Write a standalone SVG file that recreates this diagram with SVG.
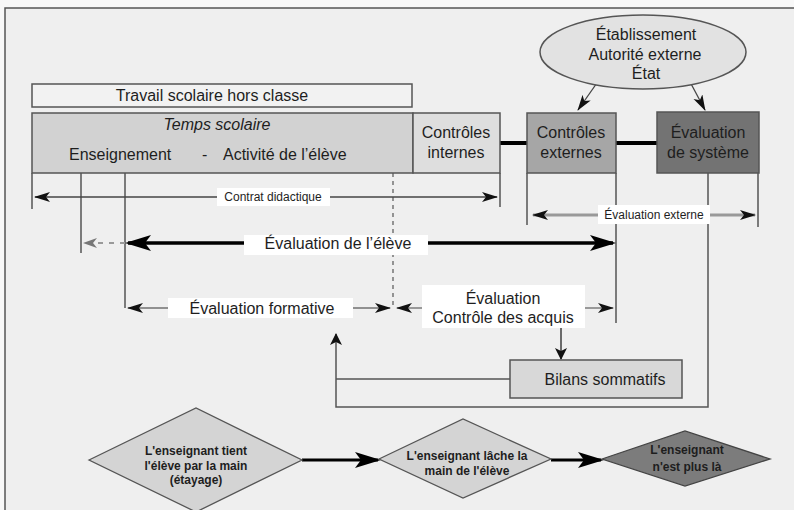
<svg xmlns="http://www.w3.org/2000/svg" width="794" height="510" viewBox="0 0 794 510">
<style>
text{font-family:"Liberation Sans",Arial,sans-serif;fill:#1e1e1e}
.t16{font-size:16px}
.t12{font-size:12px}
.c{text-anchor:middle}
.box{stroke:#555;stroke-width:1.5}
.dia{font-size:12px;font-weight:bold;text-anchor:middle}
.lbl{fill:#fff;stroke:none}
.ln{stroke:#555;stroke-width:1.5;fill:none}
</style>
<defs>
<marker id="a" markerUnits="userSpaceOnUse" markerWidth="17" markerHeight="11" refX="15" refY="5" orient="auto-start-reverse"><path d="M0,0 L16,5 L0,10 L4,5 z" fill="#111"/></marker>
<marker id="aB" markerUnits="userSpaceOnUse" markerWidth="28" markerHeight="17" refX="23" refY="8" orient="auto-start-reverse"><path d="M0,0 L26,8 L0,16 L6,8 z" fill="#000"/></marker>
<marker id="aG" markerUnits="userSpaceOnUse" markerWidth="15" markerHeight="11" refX="13" refY="5" orient="auto-start-reverse"><path d="M0,0 L14,5 L0,10 L4,5 z" fill="#777"/></marker>
<marker id="aS" markerUnits="userSpaceOnUse" markerWidth="13" markerHeight="15" refX="11" refY="6" orient="auto-start-reverse"><path d="M0,0 L12,6 L0,12 L3,6 z" fill="#111"/></marker>
</defs>
<rect width="794" height="510" fill="#f8f8f8"/>
<rect x="5" y="8" width="800" height="520" fill="#efefef" stroke="#555" stroke-width="1.5"/>

<g id="connectors">
  <!-- vertical guide lines -->
  <path class="ln" d="M32,173 V209 M81,173 V253 M125,173 V308 M500,173 V207 M527,173 V225 M616,173 V323 M758,173 V227"/>
  <path d="M393,173 V307" stroke="#555" stroke-width="1.2" stroke-dasharray="4,4" fill="none"/>
  <!-- thick links -->
  <path d="M500,143 H527 M616,143 H657" stroke="#000" stroke-width="4" fill="none"/>
  <!-- ellipse arrows -->
  <path d="M599,80 L578,110" stroke="#444" stroke-width="1.3" fill="none" marker-end="url(#a)"/>
  <path d="M689,80 L705,110" stroke="#444" stroke-width="1.3" fill="none" marker-end="url(#a)"/>
  <!-- contrat didactique -->
  <path d="M35,197 H497" stroke="#444" stroke-width="1.5" fill="none" marker-start="url(#a)" marker-end="url(#a)"/>
  <!-- evaluation externe -->
  <path d="M533,215 H755" stroke="#999" stroke-width="3" fill="none" marker-start="url(#a)" marker-end="url(#a)"/>
  <!-- evaluation de l'eleve -->
  <path d="M125,243 H84" stroke="#999" stroke-width="2" stroke-dasharray="5,6" fill="none" marker-end="url(#aG)"/>
  <path d="M128,243 H613" stroke="#000" stroke-width="3.5" fill="none" marker-start="url(#aB)" marker-end="url(#aB)"/>
  <!-- evaluation formative -->
  <path d="M128,308 H390" stroke="#333" stroke-width="1.2" fill="none" marker-start="url(#a)" marker-end="url(#a)"/>
  <!-- controle des acquis -->
  <path d="M397,308 H613" stroke="#999" stroke-width="2" fill="none" marker-start="url(#a)" marker-end="url(#a)"/>
  <path d="M561,328 V359" stroke="#222" stroke-width="1.3" fill="none" marker-end="url(#aS)"/>
  <!-- loop back -->
  <path class="ln" d="M708,173 V407 H336 V334" marker-end="url(#aS)"/>
  <path class="ln" d="M510,379 H336"/>
  <!-- bottom sequence -->
  <path d="M302,460 H378" stroke="#000" stroke-width="3" fill="none" marker-end="url(#aB)"/>
  <path d="M551,460 H601" stroke="#000" stroke-width="3" fill="none" marker-end="url(#aB)"/>
</g>

<g id="labels">
  <rect class="lbl" x="217" y="188" width="113" height="18"/>
  <text class="t12 c" x="273" y="201">Contrat didactique</text>
  <rect class="lbl" x="598" y="205" width="112" height="19"/>
  <text class="t12 c" x="654" y="219">Évaluation externe</text>
  <rect class="lbl" x="244" y="235" width="184" height="20"/>
  <text class="t16 c" x="338" y="249">Évaluation de l’élève</text>
  <rect class="lbl" x="168" y="298" width="185" height="20"/>
  <text class="t16 c" x="262" y="314">Évaluation formative</text>
  <rect class="lbl" x="422" y="285" width="163" height="43"/>
  <text class="t16 c" x="503" y="304">Évaluation</text>
  <text class="t16 c" x="503" y="323">Contrôle des acquis</text>
</g>

<g id="travail">
  <rect class="box" x="32" y="84" width="380" height="23" fill="#f2f2f2"/>
  <text class="t16 c" x="212" y="101">Travail scolaire hors classe</text>
</g>
<g id="temps-scolaire">
  <rect class="box" x="32" y="113" width="381" height="60" fill="#d2d2d2"/>
  <text class="t16 c" x="217" y="130" font-style="italic">Temps scolaire</text>
  <text class="t16" y="160"><tspan x="69">Enseignement</tspan><tspan x="202">-</tspan><tspan x="223">Activité de l’élève</tspan></text>
</g>
<g id="controles-internes">
  <rect class="box" x="413" y="113" width="87" height="60" fill="#dedede"/>
  <text class="t16 c" x="456" y="138">Contrôles</text>
  <text class="t16 c" x="456" y="158">internes</text>
</g>
<g id="controles-externes">
  <rect class="box" x="527" y="113" width="89" height="60" fill="#a6a6a6"/>
  <text class="t16 c" x="571" y="138">Contrôles</text>
  <text class="t16 c" x="571" y="158">externes</text>
</g>
<g id="evaluation-systeme">
  <rect class="box" x="657" y="112" width="102" height="61" fill="#737373"/>
  <text class="t16 c" x="708" y="138">Évaluation</text>
  <text class="t16 c" x="708" y="158">de système</text>
</g>
<g id="autorites">
  <ellipse cx="643" cy="52" rx="103" ry="37" fill="#e2e2e2" stroke="#555" stroke-width="1.5"/>
  <text class="t16 c" x="646" y="40">Établissement</text>
  <text class="t16 c" x="645" y="60">Autorité externe</text>
  <text class="t16 c" x="646" y="79">État</text>
</g>
<g id="bilans">
  <rect class="box" x="510" y="360" width="172" height="38" fill="#d8d8d8"/>
  <text class="t16 c" x="605" y="385">Bilans sommatifs</text>
</g>
<g id="etayage">
  <path d="M89,460 L196,408 L302,460 L196,512 z" fill="#d4d4d4" stroke="#555" stroke-width="1.3"/>
  <text class="dia" x="196" y="455">L'enseignant tient</text>
  <text class="dia" x="196" y="470">l'élève par la main</text>
  <text class="dia" x="196" y="484">(étayage)</text>
</g>
<g id="lache">
  <path d="M379,459 L463,419 L551,459 L463,498 z" fill="#d4d4d4" stroke="#555" stroke-width="1.3"/>
  <text class="dia" x="467" y="460">L'enseignant lâche la</text>
  <text class="dia" x="467" y="475">main de l'élève</text>
</g>
<g id="plus-la">
  <path d="M602,459 L685,431 L770,459 L685,486 z" fill="#7c7c7c" stroke="#444" stroke-width="1.3"/>
  <text class="dia" x="687" y="454">L'enseignant</text>
  <text class="dia" x="687" y="471">n'est plus là</text>
</g>
</svg>
